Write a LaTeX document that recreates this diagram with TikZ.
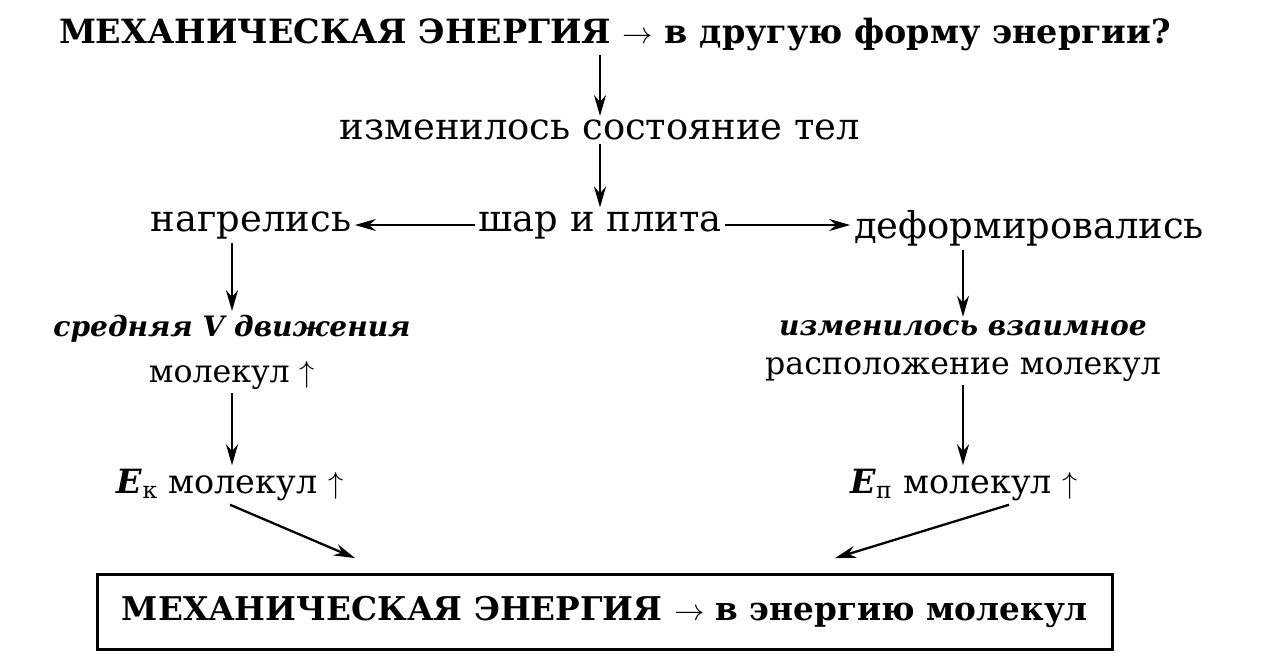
\documentclass[tikz,border=0pt]{standalone}
\usepackage{fontspec}
\setmainfont{DejaVu Serif}
\usetikzlibrary{arrows.meta}

\tikzstyle{link}=[-{Stealth[length=4.2mm,width=2.4mm]},line width=1.3pt]
\tikzstyle{head}=[font=\bfseries\fontsize{19}{23}\selectfont,inner sep=2pt]
\tikzstyle{big}=[font=\fontsize{21}{25}\selectfont,inner sep=2pt]
\tikzstyle{small}=[font=\fontsize{18}{22}\selectfont,align=center,inner sep=2pt]
\tikzstyle{result}=[draw,line width=1.6pt,minimum width=20.3cm,minimum height=1.5cm,font=\bfseries\fontsize{18.6}{22}\selectfont]

\begin{document}
\begin{tikzpicture}[x=0.02cm,y=-0.02cm]
  \useasboundingbox (0,0) rectangle (1266,666);
  \node[head] (title) at (615,35) {МЕХАНИЧЕСКАЯ ЭНЕРГИЯ $\rightarrow$ в другую форму энергии?};
  \node[big] (state) at (600,130) {изменилось состояние тел};
  \node[big] (ball) at (600,225) {шар и плита};
  \node[big] (heated) at (251,225) {нагрелись};
  \node[big] (deformed) at (1029,228) {деформировались};
  \node[small] (speed) at (232,352) {\textbf{\textit{\fontsize{16}{20}\selectfont средняя V движения}}\\[4pt]молекул $\uparrow$};
  \node[small] (arrange) at (963,351) {\textbf{\textit{\fontsize{16}{20}\selectfont изменилось взаимное}}\\расположение молекул};
  \node[small,font=\fontsize{19}{22}\selectfont] (ek) at (230,485) {\textbf{\textit{E}}\textsubscript{к} молекул $\uparrow$};
  \node[small,font=\fontsize{19}{22}\selectfont] (ep) at (964,485) {\textbf{\textit{E}}\textsubscript{п} молекул $\uparrow$};
  \node[result] (res) at (605,612) {МЕХАНИЧЕСКАЯ ЭНЕРГИЯ $\rightarrow$ в энергию молекул};
  % chain in the middle
  \draw[link] (title.south -| state.north) -- (state.north);
  \draw[link] (state) -- (ball);
  \draw[link] (ball.west) -- (ball.west -| heated.east);
  \draw[link] (ball.east) -- (ball.east -| deformed.west);
  % left branch
  \draw[link] (heated.south -| speed.north) -- (speed.north);
  \draw[link] (speed.south) -- (speed.south |- ek.north);
  \draw[link] (ek.south) -- ([shift={(-250,-15)}]res.north);
  % right branch
  \draw[link] (deformed.south -| arrange.north) -- (arrange.north);
  \draw[link] (arrange.south) -- (arrange.south |- ep.north);
  \draw[link] ([xshift=0.9cm]ep.south) -- ([shift={(230,-15)}]res.north);
\end{tikzpicture}
\end{document}
